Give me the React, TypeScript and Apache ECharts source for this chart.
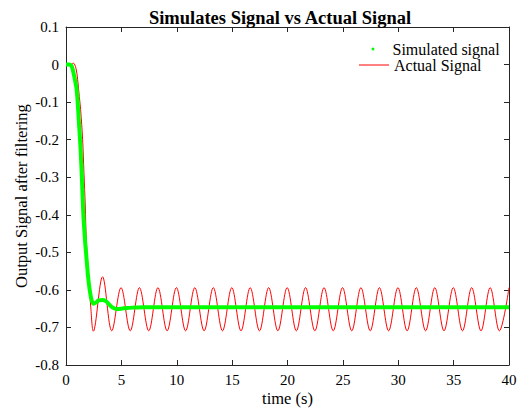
import React, { useEffect, useRef } from "react";
import * as echarts from "echarts";

// Simulated signal (green dots)
const simTime = [0, 0.3, 0.51, 0.7, 0.96, 1.17, 1.32, 1.44, 1.56, 1.71, 1.86, 2.02, 2.23, 2.47, 2.7, 2.95, 3.3, 3.6, 3.9, 4.2, 4.6, 5.0, 5.5, 6.2, 7.0, 10, 15, 20, 25, 30, 35, 40];
const simValue = [0, 0, -0.004, -0.025, -0.066, -0.155, -0.226, -0.306, -0.394, -0.465, -0.519, -0.572, -0.616, -0.637, -0.634, -0.628, -0.627, -0.63, -0.639, -0.647, -0.651, -0.65, -0.648, -0.647, -0.646, -0.646, -0.646, -0.646, -0.646, -0.646, -0.646, -0.646];

// Actual signal (red line)
const actualTime = [0, 0.45, 0.66, 0.9, 1.05, 1.2, 1.32, 1.5, 1.62, 1.74, 1.83, 2.02, 2.23, 2.47,
  3.3, 4.13, 4.97, 5.8, 6.63, 7.47, 8.3, 9.13, 9.97, 10.8, 11.63, 12.47, 13.3, 14.13, 14.97, 15.8,
  16.63, 17.47, 18.3, 19.13, 19.97, 20.8, 21.63, 22.47, 23.3, 24.13, 24.97, 25.8, 26.63, 27.47,
  28.3, 29.13, 29.97, 30.8, 31.63, 32.47, 33.3, 34.13, 34.97, 35.8, 36.63, 37.47, 38.3, 39.13, 40];
const actualValue = [0, 0, 0.004, -0.01, -0.04, -0.085, -0.12, -0.2, -0.288, -0.377, -0.465, -0.554, -0.643, -0.71,
  -0.565, -0.709, -0.594, -0.709, -0.594, -0.709, -0.594, -0.709, -0.594, -0.709, -0.594, -0.709, -0.594, -0.709, -0.594, -0.709,
  -0.594, -0.709, -0.594, -0.709, -0.594, -0.709, -0.594, -0.709, -0.594, -0.709, -0.594, -0.709, -0.594, -0.709,
  -0.594, -0.709, -0.594, -0.709, -0.594, -0.709, -0.594, -0.709, -0.594, -0.709, -0.594, -0.709, -0.594, -0.709, -0.594];

const seriesNames = ["Simulated signal", "Actual Signal"];
const X_MIN = 0, X_MAX = 40, X_STEP = 5;
const Y_MIN = -0.8, Y_MAX = 0.1, Y_STEP = 0.1;

const FONT = "Liberation Serif";
const AXIS_COLOR = "#262626";

export default function App() {
  const ref = useRef<HTMLDivElement>(null);
  useEffect(() => {
    if (!ref.current) return;
    const chart = echarts.init(ref.current, undefined, { renderer: "svg" });
    const simData = simTime.map((t, i) => [t, simValue[i]]);
    const actData = actualTime.map((t, i) => [t, actualValue[i]]);
    const axisLine = { show: true, onZero: false, lineStyle: { color: AXIS_COLOR, width: 1 } };
    const tick = { show: true, inside: true, length: 5, lineStyle: { color: AXIS_COLOR, width: 1 } };
    const yFmt = (v: number) => String(Number(v.toFixed(1)));
    chart.setOption({
      animation: false,
      backgroundColor: "#ffffff",
      textStyle: { fontFamily: FONT },
      title: {
        text: "Simulates Signal vs Actual Signal",
        left: 275,
        textAlign: "center",
        top: 3,
        textStyle: { fontFamily: FONT, fontWeight: "bold", fontSize: 18.5, color: "#000" },
      },
      legend: [
        {
          data: [{ name: seriesNames[0], icon: "circle" }],
          left: 371.5, top: 41, itemWidth: 3, itemHeight: 3, padding: 0,
          textStyle: { fontFamily: FONT, fontSize: 16, color: "#000", lineHeight: 16, padding: [0, 0, 0, 13] },
        },
        {
          data: [{ name: seriesNames[1], icon: "rect" }],
          left: 359, top: 57, itemWidth: 30, itemHeight: 1, padding: 0,
          textStyle: { fontFamily: FONT, fontSize: 16, color: "#000", lineHeight: 16 },
        },
      ],
      grid: { left: 66, right: 21, top: 27, bottom: 44, containLabel: false, outerBoundsMode: "none" },
      xAxis: [
        {
          type: "value", min: X_MIN, max: X_MAX, interval: X_STEP, position: "bottom",
          name: "time (s)", nameLocation: "middle", nameGap: 25, nameMoveOverlap: false,
          nameTextStyle: { fontFamily: FONT, fontSize: 16.5, color: "#000" },
          axisLine, axisTick: tick, splitLine: { show: false },
          axisLabel: { fontFamily: FONT, fontSize: 15, color: "#000", margin: 7 },
        },
        {
          type: "value", min: X_MIN, max: X_MAX, interval: X_STEP, position: "top",
          axisLine, axisTick: tick, splitLine: { show: false }, axisLabel: { show: false },
        },
      ],
      yAxis: [
        {
          type: "value", min: Y_MIN, max: Y_MAX, interval: Y_STEP, position: "left",
          name: "Output Signal after filtering", nameLocation: "middle", nameGap: 36, nameRotate: 90,
          nameMoveOverlap: false,
          nameTextStyle: { fontFamily: FONT, fontSize: 16.5, color: "#000" },
          axisLine, axisTick: tick, splitLine: { show: false },
          axisLabel: { fontFamily: FONT, fontSize: 15, color: "#000", margin: 7, formatter: yFmt },
        },
        {
          type: "value", min: Y_MIN, max: Y_MAX, interval: Y_STEP, position: "right",
          axisLine, axisTick: tick, splitLine: { show: false }, axisLabel: { show: false },
        },
      ],
      series: [
        {
          name: seriesNames[1], type: "line", data: actData, smooth: 0.35,
          showSymbol: false, symbol: "none",
          lineStyle: { color: "#ff0000", width: 1 }, itemStyle: { color: "#ff0000" }, z: 2,
        },
        {
          name: seriesNames[0], type: "line", data: simData, smooth: 0.3,
          showSymbol: false, symbol: "none",
          lineStyle: { color: "#00ff00", width: 4 }, itemStyle: { color: "#00ff00" }, z: 3,
        },
      ],
    });
    return () => chart.dispose();
  }, []);
  return <div ref={ref} style={{ position: "fixed", left: 0, top: 0, width: 530, height: 409 }} />;
}
